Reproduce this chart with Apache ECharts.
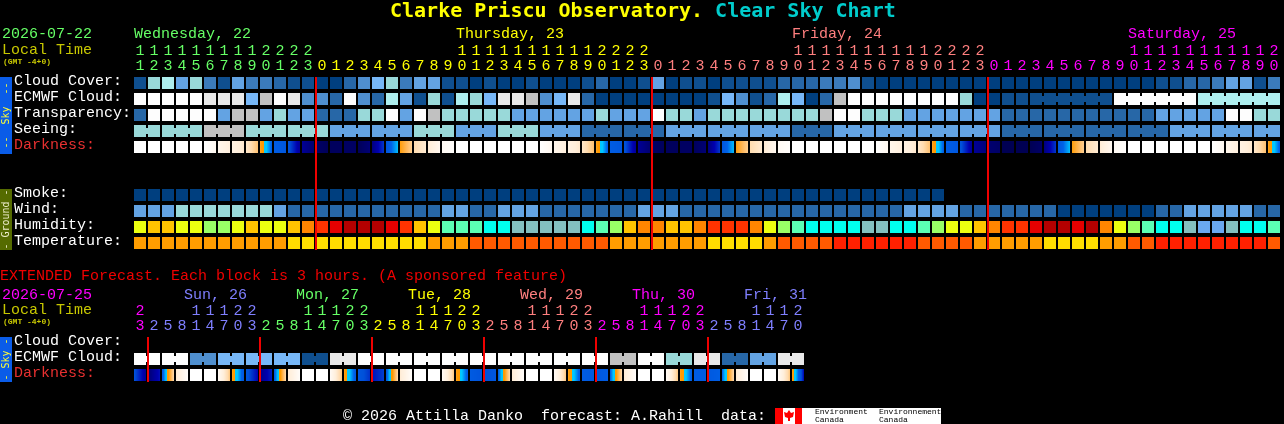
<!DOCTYPE html>
<html><head><meta charset="utf-8">
<style>html,body{margin:0;padding:0;background:#000;overflow:hidden}#c{width:1284px;height:424px}</style>
<script src="https://cdn.jsdelivr.net/npm/echarts@6/dist/echarts.min.js"></script>
</head><body><div id="c"></div>
<script>
const FONT = '"Liberation Mono", "DejaVu Sans Mono", monospace';
const TITLEFONT = '"DejaVu Sans Mono", monospace';
const GREEN='#66ff66', YEL='#ffff00', SALMON='#ff7f7f', MAG='#ff00ff', BLUE='#7f7fff', DIM='#c8c800', RED='#e83030';

const skyPalette = ['#003f7f','#0f4f8f','#2767a7','#3b7bbb','#4f8fcf','#63a3e3','#77b7f7','#99d9d9','#aeeeee','#c1c1c1','#e9e9e9','#fdfdfd'];
const humidityPalette = ['#b40000','#e60000','#ff3300','#ff8500','#ffc400','#ecff10','#99ff66','#5bffb4','#00ffee','#83bfbf','#6aa8f0'];
const temperaturePalette = ['#ffdd00','#ff9d00','#ff5a00','#ff2000'];
const darknessPalette = ['#ffffff','#fff6ec','#ffeeda','#ffdcb0','#ffba60','#ff9a00','#00c8ff','#0062e8','#0050d8','#0000b0','#000070','#000040'];

const hours = [11,12,13,14,15,16,17,18,19,20,21,22,23,0,1,2,3,4,5,6,7,8,9,10,11,12,13,14,15,16,17,18,19,20,21,22,23,0,1,2,3,4,5,6,7,8,9,10,11,12,13,14,15,16,17,18,19,20,21,22,23,0,1,2,3,4,5,6,7,8,9,10,11,12,13,14,15,16,17,18,19,20];
const midnights = [13,37,61];
const dayLabels = [['Wednesday, 22',0],['Thursday, 23',23],['Friday, 24',47],['Saturday, 25',71]];
const dayColors = [GREEN,YEL,SALMON,MAG];
const hourDayBreaks = [13,37,61];

const cloudCover = [1,7,8,5,7,3,1,5,3,3,2,1,1, 0,0,2,4,6,7,3,5, 5, 1,1,0,1,0,0,1,0,0,0,1,2,0,0,1, 5,0,1,1,0,1,1,1,1,2,2,2,3,3,4, 1,0,0,0,0,0,0,0,0, 0,0,0,0,0,0,0,0,0,0,0,0, 1,1,2,2,3,5,5,1,3];
const ecmwfCloud = [11,11,11,11,11,10,10,10,6,9,11,10,4, 4,2,11,4,2,8,5,1, 7, 1,8,7,6,10,10,9,4,6,10,2,0,0,0,0, 0,0,0,0,1,6,4,1,2,8,6,0,2,9,11, 11,11,11,11,11,11,11,7,0, 0,1,1, 1,1,1,1,1,1, 11,11,11,11,11,11, 8,8,8,8,8,8];
const transparency = [2,11,11,11,11,11,5,9,9,5,7,5,5, 2,2,2,7,7,11,5,11, 9, 7,7,7,7,7,5,5,5,5,5,5,7,5,5,5, 11,7,7,5,7,7,7,7,7,7,7,7,9,11,11, 7,7,7,5,5,5,5,5,5, 5,2,2,2,2,2,2,2,2,2,2,2, 5,5,5,5,5,11,11,7,7];
const seeing = [7,7, 7,7,7, 9,9,9, 7,7,7, 7,7,7, 5,5,5, 5,5,5, 7,7,7, 5,5,5, 7,7,7, 5,5,5, 2,2,2, 2,2,2, 5,5,5, 5,5,5, 5,5,5, 2,2,2, 5,5,5, 5,5,5, 5,5,5, 5,5,5, 2,2,2, 2,2,2, 2,2,2, 2,2,2, 5,5,5, 5,5,5, 5,5];
const darkStart = [0,0,0,0,0,0,1,1.5,2.4,4.6,7.3,7.8,9.4, 10.2,10.4,10.3,10.5,9.8,7.7,4.9,3,2.2,.6,0,0,0,0,0,0,0,1,1.5,2.4,4.6,7.3,7.8,9.4, 10.2,10.4,10.3,10.4,9.8,7.7,4.9,3,2.2,.6,0,0,0,0,0,0,0,1,1.5,2.4,4.6,7.3,7.8,9.4, 10,10.6,10.6,10.6,9.8,7.7,4.9,3,2.2,.6,0,0,0,0,0,0,0,1,1.5,2.4,4.6];
const darkEnd   = [0,0,0,0,0,.8,1.8,2.3,3.8,7.2,7.6,9.4,10, 10.5,10.4,10.3,9.9,8.3,6.1,3.4,2.2,.8,.2,0,0,0,0,0,0,.8,1.8,2.3,3.8,7.2,7.6,9.4,10, 10.4,10.4,10.3,9.9,8.3,6.1,3.4,2.2,.8,.2,0,0,0,0,0,0,.8,1.8,2.3,3.8,7.2,7.6,9.4,9.8, 10.2,10.6,10.6,10.2,8.3,6.1,3.4,2.2,.8,.2,0,0,0,0,0,0,.8,1.8,2.3,3.8,7.2];
const smoke = [0,0,0,0,0,0,0,0,0,0,0,0,0,0,0,0,0,0,0,0,0,0,0,0,0,0,0,0,0,0,0,0,0,0,0,0,0,0,0,0,0,0,0,0,0,0,0,0,0,0,0,0,0,0,0,0,0,0];
const wind = [5,5,5,7,7,7,7,7,7,7,5,2,2, 2,2,2,2,2,2,2,2, 2, 5,5,2,2,5,5,5,2,2,2,2,2,2,2,5, 5,5,2,2,2,2,2,2,2,2,2,2,2,2,2, 2,2,2,5,5,5,5,2,2, 2,2,2,2,2,0,0,0,0,0,0,0, 2,2,5,5,5,5,5,2,2];
const humidity = [5,4,4,5,5,6,6,5,4,5,5,4,3, 2,1,0,0,0,1,2,4, 5, 7,7,7,8,8,9,9,9,9,9,8,7,6,4,3, 3,4,4,3,2,2,2,3,5,6,7,8,8,8,8, 9,9,8,8,7,6,5,5,4, 3,2,2,1,0,0,1,0,3,5,6,7, 8,8,9,10,10,9,8,8,7];
const temperature = [1,1,1,1,1,1,1,1,1,1,1,0,0, 0,0,0,0,0,0,0,0, 1, 1,1,2,2,2,2,2,2,2,2,2,2,1,1,1, 1,1,1,1,0,0,0,0,1,2,2,2,2,3,3, 3,3,3,3,2,2,2,2,1, 1,1,1,1,0,0,0,0,1,1,2,2, 3,3,3,3,3,3,3,3,2];
const seeingSpans = [[0,1],[2,4],[5,7],[8,10],[11,13],[14,16],[17,19],[20,22],[23,25],[26,28],[29,31],[32,34],[35,37],[38,40],[41,43],[44,46],[47,49],[50,52],[53,55],[56,58],[59,61],[62,64],[65,67],[68,70],[71,73],[74,76],[77,79],[80,81]];
const ecmwfSpans = [[64,69],[70,75],[76,81]];
const mainRows = ['Cloud Cover:','ECMWF Cloud:','Transparency:','Seeing:','Darkness:',' ','  ','Smoke:','Wind:','Humidity:','Temperature:'];

const extHours = [23,2,5,8,11,14,17,20,23,2,5,8,11,14,17,20,23,2,5,8,11,14,17,20,23,2,5,8,11,14,17,20,23,2,5,8,11,14,17,20,23,2,5,8,11,14,17,20];
const extMidnights = [1,9,17,25,33,41];
const extDayLabels = [['Sun, 26',4],['Mon, 27',12],['Tue, 28',20],['Wed, 29',28],['Thu, 30',36],['Fri, 31',44]];
const extDayColors = [BLUE,GREEN,YEL,SALMON,MAG,BLUE];
const extDayBreaks = [1,9,17,25,33,41];
const extColors = [MAG,BLUE,GREEN,YEL,SALMON,MAG,BLUE];
const extEcmwf = [11,11,11,11,4,4,6,6,6,6,6,6,1,1,10,10,11,11,11,11,11,11,11,11,11,11,11,11,11,11,11,11,11,11,9,9,11,11,7,7,10,10,2,2,5,5,10,10];
const extDarkStart = [7.9,10,7.5,2.2,0,0,.5,4.7, 7.7,9.6,7.4,2.2,0,0,.5,4.7, 7.6,8.8,7.4,2.2,0,0,.5,4.7, 7.4,8,7.3,2.2,0,0,.5,4.7, 7.3,7.6,7.2,2.2,0,0,.5,4.7, 7.3,7.5,7.1,2.2,0,0,.5,4.7];
const extDarkEnd   = [9.4,8.8,3,.3,0,0,3.6,7.6, 9,8.6,3,.3,0,0,3.6,7.5, 8.4,8.2,3,.3,0,0,3.6,7.4, 7.8,7.6,3,.3,0,0,3.6,7.3, 7.5,7.3,3,.3,0,0,3.6,7.3, 7.4,7.2,3,.3,0,0,3.6,9];
const extSpans = [[0,1],[2,3],[4,5],[6,7],[8,9],[10,11],[12,13],[14,15],[16,17],[18,19],[20,21],[22,23],[24,25],[26,27],[28,29],[30,31],[32,33],[34,35],[36,37],[38,39],[40,41],[42,43],[44,45],[46,47]];
const extRows = ['Cloud Cover:','ECMWF Cloud:','Darkness:'];

function hex(c){return [1,3,5].map(k=>parseInt(c.substr(k,2),16));}
function ramp(d){
  const i=Math.min(Math.floor(d),darknessPalette.length-2), t=d-i;
  if(i===5) return t<0.5?darknessPalette[5]:darknessPalette[6];
  const a=hex(darknessPalette[i]), b=hex(darknessPalette[i+1]);
  return 'rgb('+a.map((v,k)=>Math.round(v+(b[k]-v)*t)).join(',')+')';
}
function colorAt(i,breaks,cols){let k=0;while(k<breaks.length&&i>=breaks[k])k++;return cols[k];}

function blocks(row,vals,pal,spans){
  const inLink=i=>(spans||[]).some(s=>i>=s[0]&&i<s[1]);
  return vals.map((v,i)=>[i,row,pal[v],inLink(i)?1:0]);
}
const renderBlock=(p,api)=>{
  const c=api.coord([api.value(0),api.value(1)]), s=api.size([1,1]);
  const col=p.context.items[p.dataIndex][2];
  const kids=[{type:'rect',shape:{x:c[0]-s[0]/2+1,y:c[1]-6,width:12,height:12},style:{fill:col}}];
  if(p.context.items[p.dataIndex][3]) kids.push({type:'rect',shape:{x:c[0]+6,y:c[1]-3,width:2,height:6},style:{fill:col}});
  return {type:'group',children:kids};
};
function blockSeries(items,axis){
  return {type:'custom',coordinateSystem:'cartesian2d',xAxisIndex:axis,yAxisIndex:axis,clip:false,silent:true,
    data:items.map(d=>[d[0],d[1]]),encode:{x:0,y:1},
    renderItem:(p,api)=>{p.context.items=items;return renderBlock(p,api);}};
}
function darkSeries(a,b,row,axis){
  return {type:'custom',coordinateSystem:'cartesian2d',xAxisIndex:axis,yAxisIndex:axis,clip:false,silent:true,
    data:a.map((v,i)=>[i,row,v,b[i]]),encode:{x:0,y:1},
    renderItem:(p,api)=>{
      const c=api.coord([api.value(0),api.value(1)]), s=api.size([1,1]);
      const d0=api.value(2), d1=api.value(3), stops=[];
      for(let k=0;k<12;k++){const col=ramp(d0+(d1-d0)*(k+.5)/12);stops.push({offset:k/12,color:col},{offset:(k+1)/12,color:col});}
      return {type:'rect',shape:{x:c[0]-s[0]/2+1,y:c[1]-6,width:12,height:12},
        style:{fill:new echarts.graphic.LinearGradient(0,0,1,0,stops)}};
    }};
}
function lineSeries(marks,lastRow,axis){
  return {type:'custom',coordinateSystem:'cartesian2d',xAxisIndex:axis,yAxisIndex:axis,clip:false,silent:true,z:20,
    data:marks.map(i=>[i,0]),encode:{x:0,y:1},
    renderItem:(p,api)=>{
      const c=api.coord([api.value(0),0]), e=api.coord([api.value(0),lastRow]), s=api.size([1,1]);
      return {type:'rect',shape:{x:c[0]-s[0]/2,y:c[1]-6,width:2,height:e[1]-c[1]+13},style:{fill:'#f00000'}};
    }};
}
function dayTextSeries(labels,cols,axis,dx,dy){
  return {type:'custom',coordinateSystem:'cartesian2d',xAxisIndex:axis,yAxisIndex:axis,clip:false,silent:true,
    data:labels.map(l=>[l[1],0]),encode:{x:0,y:1},
    renderItem:(p,api)=>{
      const c=api.coord([api.value(0),0]), s=api.size([1,1]);
      return {type:'text',style:{x:c[0]-s[0]/2+dx,y:c[1]+dy,text:labels[p.dataIndex][0],fill:cols[p.dataIndex],font:'15px '+FONT,textAlign:'left',textVerticalAlign:'middle'}};
    }};
}
function xAxis(idx,list,breaks,cols){
  return {type:'category',gridIndex:idx,data:list.map(String),position:'top',boundaryGap:true,
    axisLine:{show:false},axisTick:{show:false},splitLine:{show:false},
    axisLabel:{show:true,interval:0,margin:1,hideOverlap:false,fontFamily:FONT,fontSize:15,lineHeight:15,
      color:(v,i)=>colorAt(i,breaks,cols),
      formatter:v=>(v.length>1?v[0]:' ')+'\n'+v[v.length-1]}};
}
function yAxis(idx,list){
  const tok=(color)=>({color:color,fontFamily:FONT,fontSize:15,lineHeight:15,align:'left'});
  return {type:'category',gridIndex:idx,data:list,inverse:true,
    axisLine:{show:false},axisTick:{show:false},splitLine:{show:false},
    axisLabel:{show:true,interval:0,align:'left',margin:119,
      formatter:v=>'{'+(v==='Darkness:'?'r':'w')+'|'+v+'}\n{s| }',
      rich:{w:tok('#ffffff'),r:tok(RED),s:{fontSize:1,lineHeight:3}}}};
}
function label(x,y,text,fill,size,weight){
  return {type:'text',x:x,y:y,style:{text:text,fill:fill,font:(weight?weight+' ':'')+size+'px '+FONT,textAlign:'left',textVerticalAlign:'middle'}};
}
function sideBar(y,h,bg,text,fill){
  return [{type:'rect',shape:{x:0,y:y,width:12,height:h},style:{fill:bg}},
    {type:'text',x:6,y:y+h/2,rotation:Math.PI/2,style:{text:text,fill:fill,font:'10px '+TITLEFONT,textAlign:'center',textVerticalAlign:'middle'}}];
}

const chart=echarts.init(document.getElementById('c'),null,{renderer:'canvas'});
chart.setOption({
  animation:false,backgroundColor:'#000000',
  title:{left:390,top:0,padding:0,
    text:'{a|Clarke Priscu Observatory. }{b|Clear Sky Chart}',
    textStyle:{rich:{a:{color:'#ffff00',fontFamily:TITLEFONT,fontWeight:'bold',fontSize:20,lineHeight:24},b:{color:'#00cccc',fontFamily:TITLEFONT,fontWeight:'bold',fontSize:20,lineHeight:24}}}},
  grid:[{left:133,top:75,width:1148,height:176,containLabel:false},{left:133,top:335,width:672,height:48,containLabel:false}],
  xAxis:[xAxis(0,hours,hourDayBreaks,dayColors),xAxis(1,extHours,extDayBreaks,extColors)],
  yAxis:[yAxis(0,mainRows),yAxis(1,extRows)],
  series:[
    blockSeries(blocks(0,cloudCover,skyPalette),0),
    blockSeries(blocks(1,ecmwfCloud,skyPalette,ecmwfSpans),0),
    blockSeries(blocks(2,transparency,skyPalette),0),
    blockSeries(blocks(3,seeing,skyPalette,seeingSpans),0),
    darkSeries(darkStart,darkEnd,4,0),
    blockSeries(blocks(7,smoke,skyPalette),0),
    blockSeries(blocks(8,wind,skyPalette),0),
    blockSeries(blocks(9,humidity,humidityPalette),0),
    blockSeries(blocks(10,temperature,temperaturePalette),0),
    lineSeries(midnights,10,0),
    dayTextSeries(dayLabels,dayColors,0,1,-49),
    blockSeries(blocks(1,extEcmwf,skyPalette,extSpans),1),
    darkSeries(extDarkStart,extDarkEnd,2,1),
    lineSeries(extMidnights,2,1),
    dayTextSeries(extDayLabels,extDayColors,1,-5,-48)
  ],
  graphic:[
    label(2,34,'2026-07-22',GREEN,15),
    label(2,50,'Local Time',DIM,15),
    label(3,62,'(GMT -4+0)',DIM,8,'bold'),
    label(0,276,'EXTENDED Forecast. Each block is 3 hours. (A sponsored feature)','#f00000',15),
    label(2,295,'2026-07-25',MAG,15),
    label(2,310,'Local Time',DIM,15),
    label(3,322,'(GMT -4+0)',DIM,8,'bold'),
    ...sideBar(77,77,'#0a5ce8','--  Sky  --','#ffff33'),
    ...sideBar(189,61,'#556b00','- Ground -','#eeeecc'),
    ...sideBar(337,45,'#0a5ce8','- Sky -','#ffff33'),
    label(343,416,'\u00a9 2026 Attilla Danko  forecast: A.Rahill  data:','#ffffff',15),
    {type:'rect',shape:{x:775,y:408,width:166,height:16},style:{fill:'#ffffff'}},
    {type:'rect',shape:{x:775,y:408,width:8,height:16},style:{fill:'#ff0000'}},
    {type:'rect',shape:{x:795,y:408,width:7,height:16},style:{fill:'#ff0000'}},
    {type:'polygon',shape:{points:[[789,410],[791,413],[794,412],[793,417],[790,418],[790,421],[788,421],[788,418],[785,417],[784,412],[787,413]]},style:{fill:'#ff0000'}},
    {type:'text',x:815,y:408,style:{text:'Environment\nCanada',fill:'#000',font:'8px '+FONT,lineHeight:8,textAlign:'left',textVerticalAlign:'top'}},
    {type:'text',x:879,y:408,style:{text:'Environnement\nCanada',fill:'#000',font:'8px '+FONT,lineHeight:8,textAlign:'left',textVerticalAlign:'top'}}
  ]
});
</script></body></html>
